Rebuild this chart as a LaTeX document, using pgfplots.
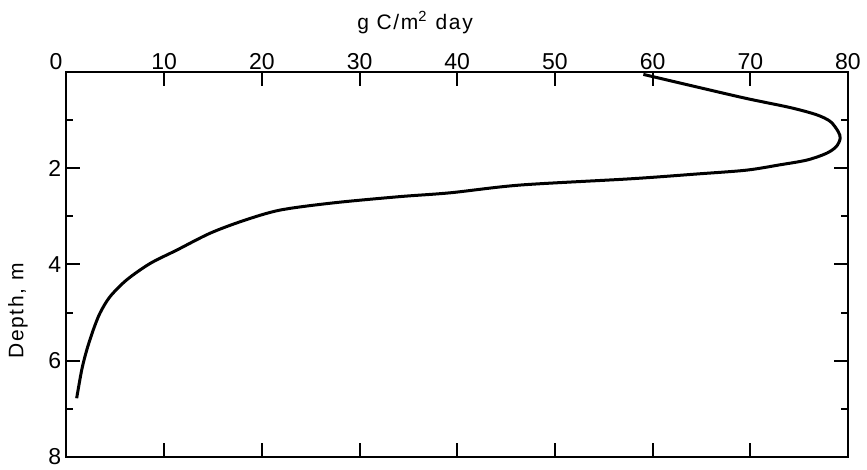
\documentclass[border=0pt]{standalone}
\usepackage{fontspec}
\setmainfont{Liberation Sans}
\newfontfamily\labelfont[LetterSpace=8]{Liberation Sans}
\usepackage{pgfplots}
\pgfplotsset{compat=1.18}
\begin{document}
\begin{tikzpicture}
\begin{axis}[
  name=ax,
  scale only axis,
  width=390.75pt, height=192.5pt,
  xmin=0, xmax=80, ymin=0, ymax=8,
  y dir=reverse,
  allow reversal of rel axis cs=false,
  axis line style={line width=1pt, black},
  xtick={10,20,...,80},
  extra x ticks={0},
  extra x tick style={xticklabel style={xshift=-5.3pt}},
  xticklabel pos=right,
  xtick pos=both,
  ytick={2,4,6,8},
  minor ytick={1,3,5,7},
  ytick pos=both,
  yticklabel pos=left,
  tick align=inside,
  major tick length=7pt,
  minor tick length=3.5pt,
  tick style={line width=1pt, black},
  /pgf/number format/assume math mode=true,
  tick label style={font=\fontsize{11.5}{12}\selectfont},
  xticklabel style={inner sep=1pt},
  yticklabel style={inner sep=2.5pt},
  xlabel={\labelfont g C/m\textsuperscript{2}\hspace{4pt}day},
  xlabel style={at={(rel axis cs:0.446,-0.110)}, anchor=base, font=\fontsize{10.5}{12}\selectfont},
  ylabel={\labelfont Depth, m},
  ylabel style={at={(rel axis cs:-0.062,0.621)}, anchor=center, font=\fontsize{10.5}{12}\selectfont},
]
\addplot[black, line width=1.5pt, smooth, tension=0.5] coordinates {
(59.05,0.05)
(64.5,0.31)
(69.6,0.55)
(74.1,0.74)
(76.8,0.89)
(78.2,1.03)
(79.0,1.24)
(79.2,1.38)
(78.8,1.55)
(77.8,1.69)
(75.8,1.83)
(73.0,1.93)
(69.6,2.04)
(64.5,2.12)
(57.7,2.22)
(46.4,2.35)
(39.3,2.51)
(34.1,2.59)
(27.3,2.72)
(21.85,2.87)
(18.1,3.09)
(14.7,3.35)
(11.3,3.70)
(8.55,3.98)
(6.16,4.32)
(4.45,4.67)
(3.43,5.01)
(2.74,5.36)
(2.07,5.78)
(1.56,6.19)
(1.04,6.78)
};
\end{axis}
\pgfresetboundingbox
\path[use as bounding box] ([xshift=-33.25pt,yshift=-6.5pt]ax.south west) rectangle ([xshift=9.5pt,yshift=36pt]ax.north east);
\end{tikzpicture}
\end{document}
